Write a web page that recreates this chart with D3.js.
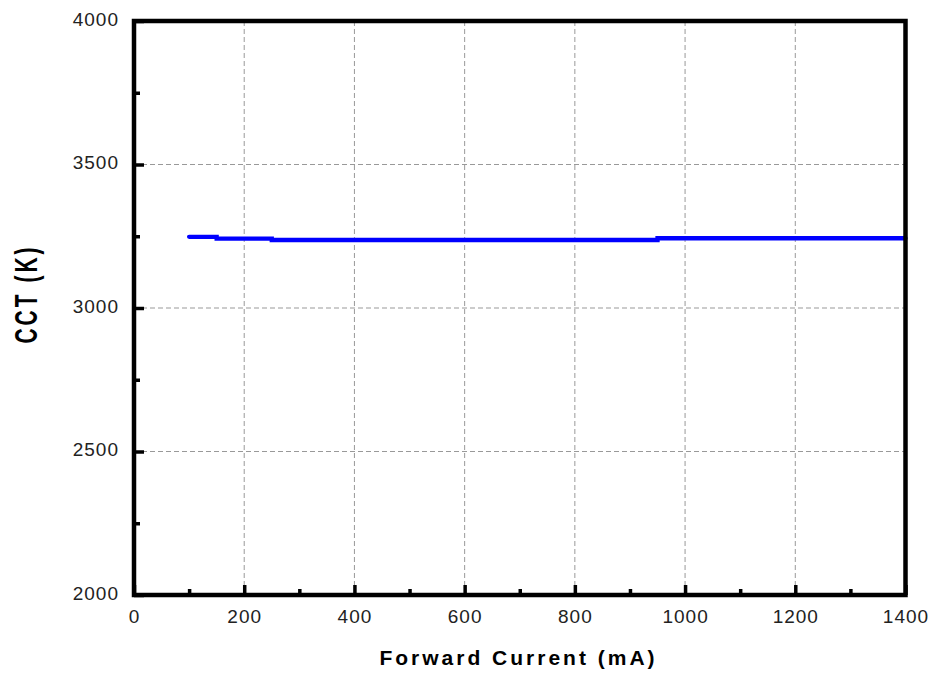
<!DOCTYPE html>
<html><head><meta charset="utf-8">
<script src="https://cdn.jsdelivr.net/npm/d3@7"></script>
<style>
body{margin:0;background:#fff;}
text{font-family:"Liberation Sans",Arial,sans-serif;}
</style></head>
<body><svg id="c" width="932" height="677"></svg>
<script>
const currents = [100, 150, 250, 950, 1400];
const cct = [3248, 3242, 3237, 3243, 3243];
const xTicks = [0, 200, 400, 600, 800, 1000, 1200, 1400];
const yTicks = [2000, 2500, 3000, 3500, 4000];

const svg = d3.select("#c");
const L = 134, R = 905.5, T = 21, B = 595;
const x = d3.scaleLinear().domain([0, 1400]).range([L, R]);
const y = d3.scaleLinear().domain([2000, 4000]).range([B, T]);

// grid
svg.append("g").selectAll("line").data(xTicks.slice(1, -1)).join("line")
  .attr("x1", d => x(d)).attr("x2", d => x(d)).attr("y1", T).attr("y2", B)
  .attr("stroke", "#999").attr("stroke-width", 1).attr("stroke-dasharray", "5,3");
svg.append("g").selectAll("line").data(yTicks.slice(1, -1)).join("line")
  .attr("y1", d => y(d)).attr("y2", d => y(d)).attr("x1", L).attr("x2", R)
  .attr("stroke", "#999").attr("stroke-width", 1).attr("stroke-dasharray", "5,3");

// line
const pts = currents.map((c, i) => [c, cct[i]]);
svg.append("path").datum(pts)
  .attr("d", d3.line().x(d => x(d[0])).y(d => y(d[1])).curve(d3.curveStepAfter))
  .attr("fill", "none").attr("stroke", "#0000ff").attr("stroke-width", 4.3)
  .attr("stroke-linecap", "round");

// axes with inward ticks
const xAxis = d3.axisBottom(x).tickValues(xTicks).tickSize(-10).tickPadding(14.5).tickFormat(d3.format("d"));
const xMinor = d3.axisBottom(x).tickValues(d3.range(100, 1400, 200)).tickSize(-6).tickFormat("");
const yAxis = d3.axisLeft(y).tickValues(yTicks).tickSize(-10).tickPadding(15).tickFormat(d3.format("d"));
const yMinor = d3.axisLeft(y).tickValues(d3.range(2250, 4000, 500)).tickSize(-6).tickFormat("");

function style(g){
  g.select(".domain").remove();
  g.selectAll(".tick line").attr("stroke", "#000").attr("stroke-width", 3.5);
  g.selectAll("text").attr("fill", "#222").style("font-size", "19px").style("letter-spacing", "1px")
   .style("font-family", "'Liberation Sans',Arial,sans-serif");
}
svg.append("g").attr("transform", `translate(0,${B})`).call(xAxis).call(style);
svg.append("g").attr("transform", `translate(0,${B})`).call(xMinor).call(style);
const ya = svg.append("g").attr("transform", `translate(${L},0)`).call(yAxis).call(style);
ya.selectAll("text").attr("dy", "0.22em");
svg.append("g").attr("transform", `translate(${L},0)`).call(yMinor).call(style);

// frame
svg.append("rect").attr("x", L).attr("y", T).attr("width", R - L).attr("height", B - T)
  .attr("fill", "none").attr("stroke", "#000").attr("stroke-width", 4.5);

// titles
svg.append("text").attr("x", 518.5).attr("y", 665).attr("text-anchor", "middle")
  .style("font-size", "21px").style("font-weight", "bold").style("letter-spacing", "3px")
  .text("Forward Current (mA)");
svg.append("text").attr("transform", `translate(37,294) rotate(-90) scale(1,1.5)`).attr("text-anchor", "middle")
  .style("font-size", "21px").style("font-weight", "bold").style("letter-spacing", "3px")
  .text("CCT (K)");
</script></body></html>
